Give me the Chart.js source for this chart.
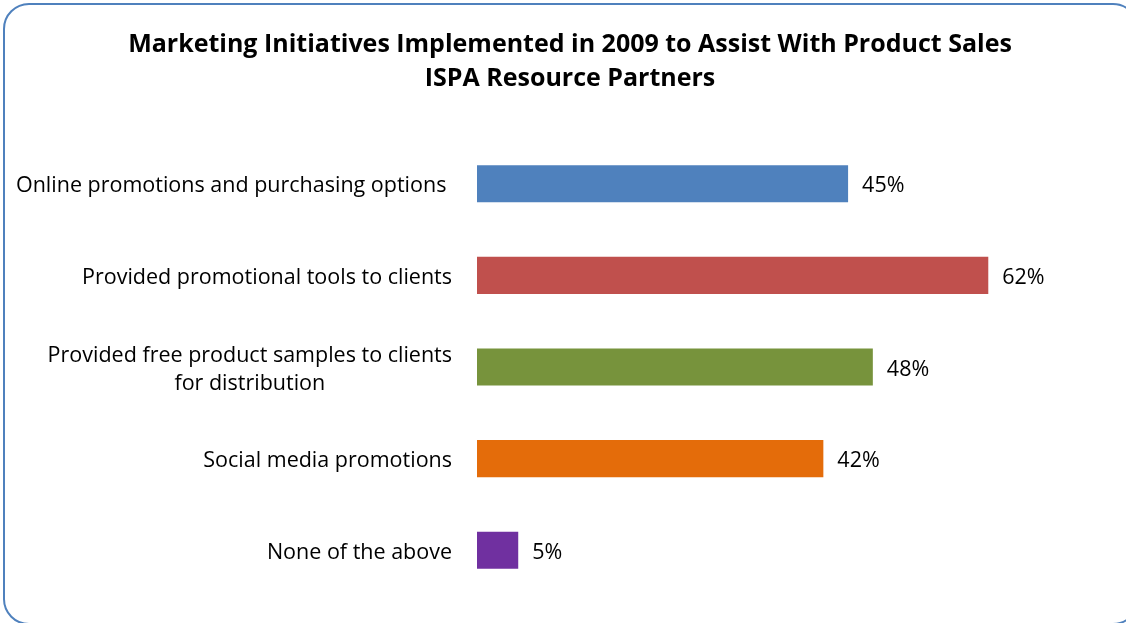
<!DOCTYPE html>
<html>
<head>
<meta charset="utf-8">
<script src="https://cdn.jsdelivr.net/npm/chart.js@4.4.1/dist/chart.umd.min.js"></script>
<style>
  body { margin: 0; background: #fff; overflow: hidden; }
  #wrap { position: relative; width: 1126px; height: 623px; }
  #frame {
    position: absolute; left: 3px; top: 3px; width: 1132px; height: 618px;
    border: 2px solid #4f81bd; border-radius: 26px;
  }
  #chart { position: absolute; left: 0; top: 0; }
</style>
</head>
<body>
<div id="wrap">
  <div id="frame"></div>
  <canvas id="chart" width="1126" height="623"></canvas>
</div>
<script>
const titleLines = [
  "Marketing Initiatives Implemented in 2009 to Assist With Product Sales",
  "ISPA Resource Partners",
];
const categories = [
  ["Online promotions and purchasing options "],
  ["Provided promotional tools to clients"],
  ["Provided free product samples to clients", "for distribution"],
  ["Social media promotions"],
  ["None of the above"],
];
const percents = [45, 62, 48, 42, 5];
const barColors = ["#4f81bd", "#c0504d", "#77933c", "#e46c0a", "#7030a0"];

const FONT = "'Open Sans', Lato, sans-serif";
const TEXT_DY = 2.5; // nudge text down a little from the bar centre

// category text: right-aligned block, lines centred inside the block
const categoryLabels = {
  id: "categoryLabels",
  afterDraw(chart) {
    const ctx = chart.ctx;
    const y = chart.scales.y;
    const right = chart.chartArea.left - 25;
    ctx.save();
    ctx.font = "21.5px " + FONT;
    ctx.fillStyle = "#000";
    ctx.textAlign = "center";
    ctx.textBaseline = "middle";
    categories.forEach((lines, i) => {
      const cy = y.getPixelForTick(i) + TEXT_DY;
      const w = Math.max(...lines.map(l => ctx.measureText(l).width));
      const lh = 28;
      lines.forEach((l, j) => {
        ctx.fillText(l, right - w / 2, cy + (j - (lines.length - 1) / 2) * lh);
      });
    });
    ctx.restore();
  },
};

// percentage next to the end of each bar
const valueLabels = {
  id: "valueLabels",
  afterDatasetsDraw(chart) {
    const ctx = chart.ctx;
    const meta = chart.getDatasetMeta(0);
    ctx.save();
    ctx.font = "21.5px " + FONT;
    ctx.fillStyle = "#000";
    ctx.textAlign = "left";
    ctx.textBaseline = "middle";
    meta.data.forEach((bar, i) => {
      ctx.fillText(percents[i] + "%", bar.x + 14, bar.y + TEXT_DY);
    });
    ctx.restore();
  },
};

new Chart("chart", {
  type: "bar",
  data: {
    labels: categories,
    datasets: [
      {
        data: percents,
        backgroundColor: barColors,
        barPercentage: 0.81,
        categoryPercentage: 0.5,
      },
    ],
  },
  options: {
    indexAxis: "y",
    responsive: false,
    animation: false,
    devicePixelRatio: 1,
    layout: { padding: { left: 14, right: 0, top: 0, bottom: 27 } },
    scales: {
      x: { display: false, min: 0, max: 78.7 },
      y: {
        grid: { display: false },
        border: { display: false },
        ticks: { display: false },
        afterFit(scale) {
          scale.width = 463;
        },
      },
    },
    plugins: {
      legend: { display: false },
      tooltip: { enabled: false },
      title: {
        display: true,
        text: titleLines,
        color: "#000",
        font: { family: FONT, size: 25, weight: "bold", lineHeight: 1.36 },
        padding: { top: 27.5, bottom: 42.5 },
      },
    },
  },
  plugins: [categoryLabels, valueLabels],
});
</script>
</body>
</html>
